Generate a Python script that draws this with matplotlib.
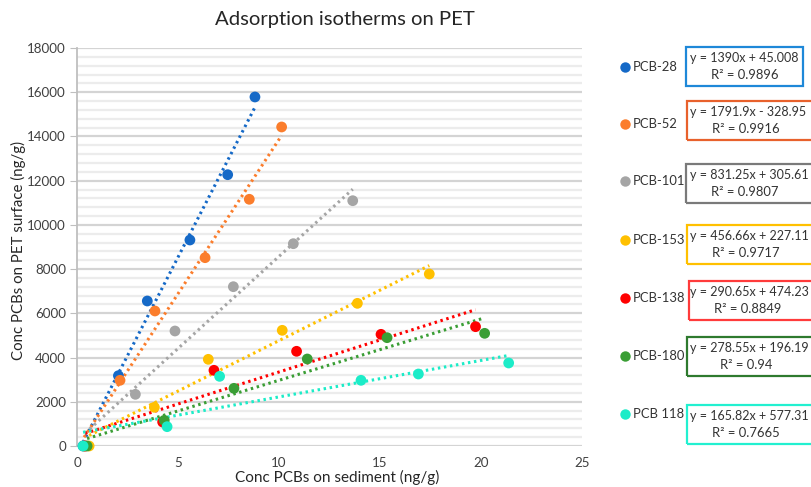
import numpy as np
import matplotlib
matplotlib.use("Agg")
import matplotlib.pyplot as plt
from matplotlib.patches import Rectangle

plt.rcParams['font.family'] = ['Lato', 'DejaVu Sans']

# ---- data ----
series_names = ["PCB-28", "PCB-52", "PCB-101", "PCB-153", "PCB-138", "PCB-180", "PCB 118"]
pcb28_x = [0.3, 2.05, 3.48, 5.59, 7.46, 8.81]
pcb28_y = [0, 3180, 6558, 9317, 12270, 15785]
pcb52_x = [0.35, 2.13, 3.86, 6.34, 8.53, 10.13]
pcb52_y = [0, 2971, 6106, 8517, 11158, 14428]
pcb101_x = [0.4, 2.89, 4.85, 7.74, 10.71, 13.65]
pcb101_y = [0, 2337, 5201, 7205, 9150, 11094]
pcb153_x = [0.6, 3.83, 6.50, 10.16, 13.88, 17.44]
pcb153_y = [0, 1750, 3920, 5232, 6452, 7779]
pcb138_x = [0.4, 4.24, 6.78, 10.87, 15.05, 19.73]
pcb138_y = [0, 1085, 3423, 4283, 5050, 5397]
pcb180_x = [0.5, 4.32, 7.77, 11.40, 15.35, 20.18]
pcb180_y = [0, 1161, 2608, 3935, 4899, 5096]
pcb118_x = [0.3, 4.46, 7.06, 14.06, 16.90, 21.37]
pcb118_y = [0, 874, 3150, 2971, 3256, 3754]

equations = ["y = 1390x + 45.008", "y = 1791.9x - 328.95", "y = 831.25x + 305.61",
             "y = 456.66x + 227.11", "y = 290.65x + 474.23", "y = 278.55x + 196.19",
             "y = 165.82x + 577.31"]
r2_labels = ["R² = 0.9896", "R² = 0.9916", "R² = 0.9807", "R² = 0.9717",
             "R² = 0.8849", "R² = 0.94", "R² = 0.7665"]

xs = [pcb28_x, pcb52_x, pcb101_x, pcb153_x, pcb138_x, pcb180_x, pcb118_x]
ys = [pcb28_y, pcb52_y, pcb101_y, pcb153_y, pcb138_y, pcb180_y, pcb118_y]

colors = ["#1569c7", "#fb7d2c", "#a5a5a5", "#ffc000", "#ff0000", "#3a9e35", "#1cecc8"]
box_colors = ["#1e88d8", "#e8612c", "#7a7a7a", "#ffc000", "#ff3b3b", "#2e7a2e", "#22f0d0"]

W, H = 811, 487
fig = plt.figure(figsize=(W / 100, H / 100), dpi=100)
ax = fig.add_axes([77 / W, 41 / H, 505 / W, 398 / H])

ax.set_xlim(0, 25)
ax.set_ylim(0, 18000)
ax.set_yticks(np.arange(0, 18001, 2000))
ax.set_yticks(np.arange(0, 18001, 400), minor=True)
ax.set_xticks(np.arange(0, 26, 5))
ax.grid(axis='y', which='major', color='#d4d4d4', lw=1.6, zorder=0)
ax.grid(axis='y', which='minor', color='#ececec', lw=1.6, zorder=0)
ax.tick_params(axis='y', which='minor', length=0)
ax.tick_params(axis='y', which='major', length=5, color='#bfbfbf', labelsize=9.6,
               labelcolor='#404040', pad=3)
ax.tick_params(axis='x', length=0, labelsize=9.6, labelcolor='#404040', pad=8)
for s in ['top', 'right', 'bottom']:
    ax.spines[s].set_visible(False)
ax.spines['left'].set_color('#bfbfbf')
ax.spines['left'].set_linewidth(1.3)

for x, y, c in zip(xs, ys, colors):
    x = np.asarray(x, float)
    y = np.asarray(y, float)
    m, b = np.polyfit(x, y, 1)
    xx = np.array([x.min(), x.max()])
    ax.plot(xx, m * xx + b, color=c, lw=2.2, ls=(0, (0.8, 1.2)), zorder=2)
for x, y, c in zip(xs, ys, colors):
    ax.scatter(x, y, s=60, color=c, edgecolors='none', zorder=3, clip_on=False)

fig.text(345 / W, 1 - 20 / H, "Adsorption isotherms on PET", ha='center', va='center',
         fontsize=14.6, color='#262626')
fig.text(337 / W, 1 - 477 / H, "Conc PCBs on sediment (ng/g)", ha='center', va='center',
         fontsize=11, color='#262626')
fig.text(18 / W, 1 - 250 / H, "Conc PCBs on PET surface (ng/g)", ha='center', va='center',
         rotation=90, fontsize=10.8, color='#262626')

# legend column
legend_y = [67, 124, 181, 240, 298, 356, 414]
box_top = [47, 101, 164, 225, 281, 337, 405]
box_right = [803, 815, 815, 815, 815, 815, 815]
box_left = [686, 687, 686, 687, 689, 687, 687]
box_h = 39
for i, name in enumerate(series_names):
    ly = legend_y[i]
    fig.lines.append(plt.Line2D([625 / W], [1 - ly / H], marker='o', ms=7.5, color=colors[i],
                                mec='none', transform=fig.transFigure))
    fig.text(633 / W, 1 - ly / H, name, ha='left', va='center', fontsize=9.4, color='#333333')
    bl, bt, br = box_left[i], box_top[i], box_right[i]
    rect = Rectangle((bl / W, 1 - (bt + box_h) / H), (br - bl) / W, box_h / H,
                     transform=fig.transFigure, fill=False, edgecolor=box_colors[i], lw=1.6)
    fig.patches.append(rect)
    cy = bt + box_h / 2
    fig.text(690 / W, 1 - (cy - 8.5) / H, equations[i], ha='left', va='center',
             fontsize=9.0, color='#333333')
    fig.text((bl + 59) / W, 1 - (cy + 8.5) / H, r2_labels[i], ha='center', va='center',
             fontsize=9.4, color='#333333')

fig.savefig("out.png", dpi=100)
